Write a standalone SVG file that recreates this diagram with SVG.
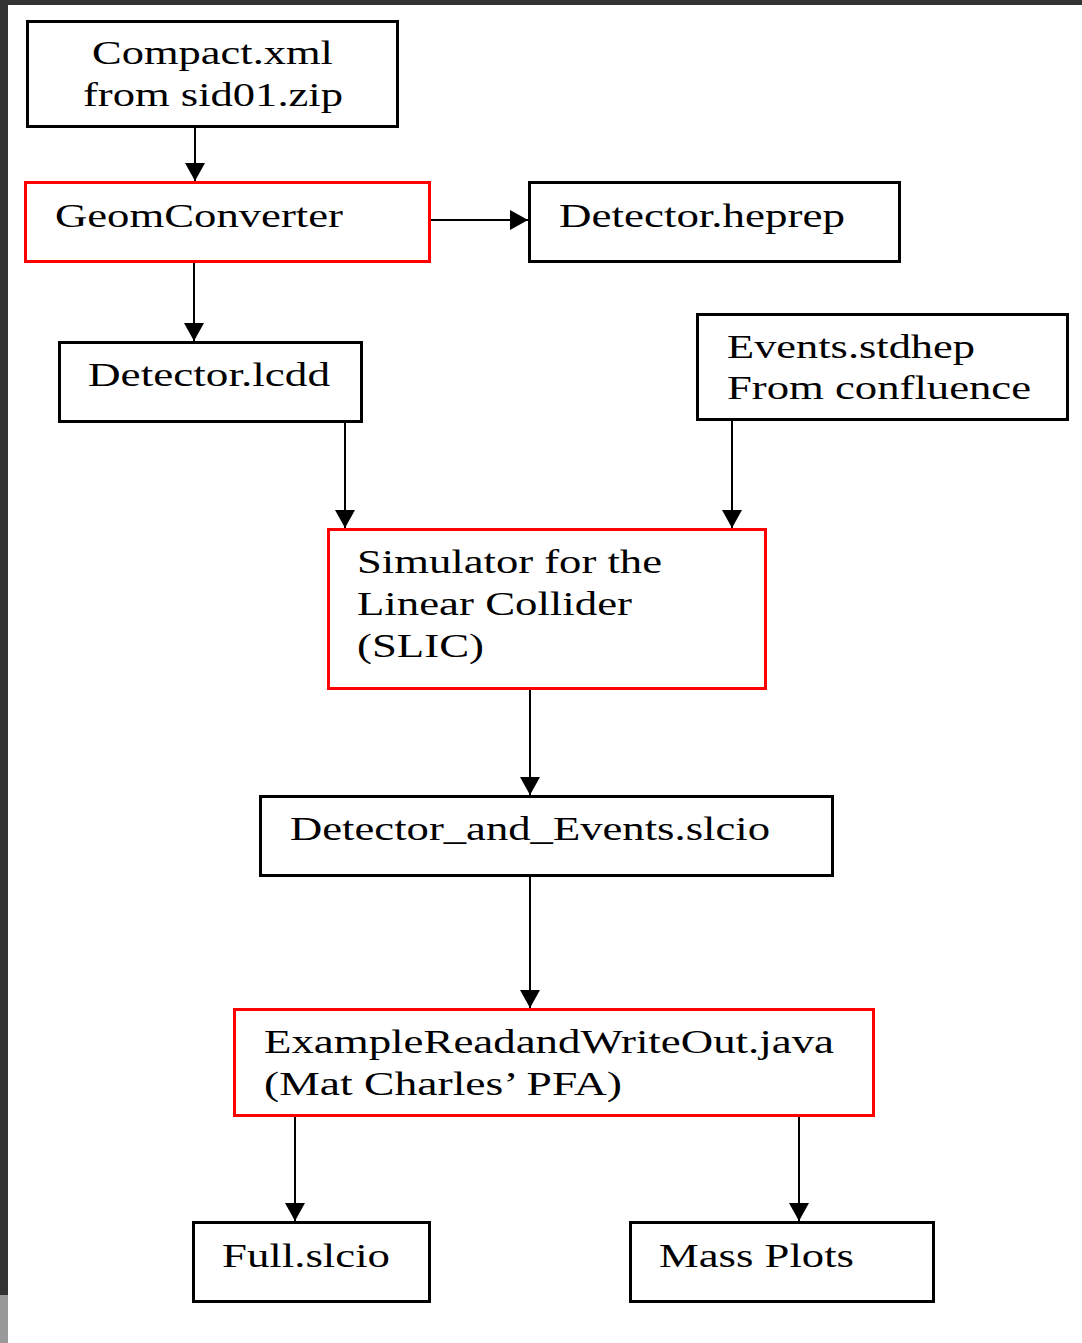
<svg xmlns="http://www.w3.org/2000/svg" width="1082" height="1343" viewBox="0 0 1082 1343">
<style>
.box{fill:#fff;stroke:#000;stroke-width:3}
.red{fill:#fff;stroke:#f00;stroke-width:3}
.t{font-family:"Liberation Serif","Times New Roman",serif;font-size:34px;fill:#000}
.c{stroke:#000;stroke-width:2;fill:none}
</style>
<defs>
<marker id="ah" viewBox="0 0 18 20" refX="18" refY="10" markerWidth="18" markerHeight="20" markerUnits="userSpaceOnUse" orient="auto">
<path d="M0,0 L18,10 L0,20 Z" fill="#000"/>
</marker>
</defs>
<rect x="0" y="0" width="1082" height="1343" fill="#fff"/>
<rect x="0" y="0" width="1082" height="5" fill="#333"/>
<rect x="0" y="0" width="8" height="1295" fill="#333"/>
<rect x="0" y="1295" width="8" height="48" fill="#999"/>

<g id="connectors">
<line class="c" x1="195" y1="128" x2="195" y2="181" marker-end="url(#ah)"/>
<line class="c" x1="431" y1="220" x2="528" y2="220" marker-end="url(#ah)"/>
<line class="c" x1="194" y1="263" x2="194" y2="341" marker-end="url(#ah)"/>
<line class="c" x1="345" y1="423" x2="345" y2="528" marker-end="url(#ah)"/>
<line class="c" x1="732" y1="421" x2="732" y2="528" marker-end="url(#ah)"/>
<line class="c" x1="530" y1="690" x2="530" y2="795" marker-end="url(#ah)"/>
<line class="c" x1="530" y1="877" x2="530" y2="1008" marker-end="url(#ah)"/>
<line class="c" x1="295" y1="1117" x2="295" y2="1221" marker-end="url(#ah)"/>
<line class="c" x1="799" y1="1117" x2="799" y2="1221" marker-end="url(#ah)"/>
</g>

<g id="compact">
<rect class="box" x="27.5" y="21.5" width="370" height="105"/>
<text class="t" x="92" y="64" textLength="241" lengthAdjust="spacingAndGlyphs">Compact.xml</text>
<text class="t" x="83" y="106" textLength="260" lengthAdjust="spacingAndGlyphs">from sid01.zip</text>
</g>
<g id="geomconverter">
<rect class="red" x="25.5" y="182.5" width="404" height="79"/>
<text class="t" x="55" y="227" textLength="288" lengthAdjust="spacingAndGlyphs">GeomConverter</text>
</g>
<g id="heprep">
<rect class="box" x="529.5" y="182.5" width="370" height="79"/>
<text class="t" x="559" y="227" textLength="286" lengthAdjust="spacingAndGlyphs">Detector.heprep</text>
</g>
<g id="lcdd">
<rect class="box" x="59.5" y="342.5" width="302" height="79"/>
<text class="t" x="88" y="386" textLength="242" lengthAdjust="spacingAndGlyphs">Detector.lcdd</text>
</g>
<g id="events">
<rect class="box" x="697.5" y="314.5" width="370" height="105"/>
<text class="t" x="727" y="358" textLength="248" lengthAdjust="spacingAndGlyphs">Events.stdhep</text>
<text class="t" x="727" y="399" textLength="304" lengthAdjust="spacingAndGlyphs">From confluence</text>
</g>
<g id="slic">
<rect class="red" x="328.5" y="529.5" width="437" height="159"/>
<text class="t" x="357" y="573" textLength="305" lengthAdjust="spacingAndGlyphs">Simulator for the</text>
<text class="t" x="357" y="615" textLength="275" lengthAdjust="spacingAndGlyphs">Linear Collider</text>
<text class="t" x="357" y="657" textLength="127" lengthAdjust="spacingAndGlyphs">(SLIC)</text>
</g>
<g id="detevents">
<rect class="box" x="260.5" y="796.5" width="572" height="79"/>
<text class="t" x="290" y="840" textLength="480" lengthAdjust="spacingAndGlyphs">Detector_and_Events.slcio</text>
</g>
<g id="example">
<rect class="red" x="234.5" y="1009.5" width="639" height="106"/>
<text class="t" x="264" y="1053" textLength="570" lengthAdjust="spacingAndGlyphs">ExampleReadandWriteOut.java</text>
<text class="t" x="264" y="1095" textLength="358" lengthAdjust="spacingAndGlyphs">(Mat Charles’ PFA)</text>
</g>
<g id="full">
<rect class="box" x="193.5" y="1222.5" width="236" height="79"/>
<text class="t" x="222" y="1267" textLength="168" lengthAdjust="spacingAndGlyphs">Full.slcio</text>
</g>
<g id="mass">
<rect class="box" x="630.5" y="1222.5" width="303" height="79"/>
<text class="t" x="659" y="1267" textLength="195" lengthAdjust="spacingAndGlyphs">Mass Plots</text>
</g>
</svg>
